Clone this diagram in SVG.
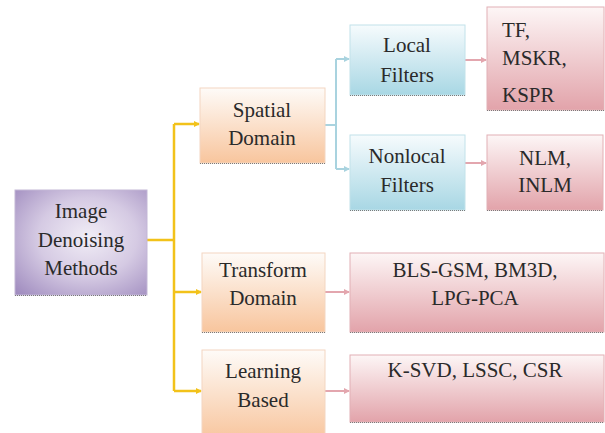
<svg xmlns="http://www.w3.org/2000/svg" width="605" height="433" viewBox="0 0 605 433">
<defs>
<radialGradient id="gPurple" cx="0.55" cy="0.45" r="0.75">
<stop offset="0" stop-color="#f1edf6"/>
<stop offset="0.5" stop-color="#d5cae3"/>
<stop offset="1" stop-color="#a08cbf"/>
</radialGradient>
<linearGradient id="gOrange" x1="0" y1="0" x2="0" y2="1">
<stop offset="0" stop-color="#fefbf8"/>
<stop offset="1" stop-color="#f8c59d"/>
</linearGradient>
<linearGradient id="gBlue" x1="0" y1="0" x2="0" y2="1">
<stop offset="0" stop-color="#f6fbfd"/>
<stop offset="1" stop-color="#a8d7e4"/>
</linearGradient>
<linearGradient id="gRed" x1="0" y1="0" x2="0" y2="1">
<stop offset="0" stop-color="#fdf6f6"/>
<stop offset="1" stop-color="#e2a3aa"/>
</linearGradient>
<marker id="aY" viewBox="0 0 6 6" refX="5" refY="3" markerWidth="6" markerHeight="6" markerUnits="userSpaceOnUse" orient="auto"><path d="M0 0L6 3L0 6Z" fill="#f2c21a"/></marker>
<marker id="aB" viewBox="0 0 6 6" refX="5" refY="3" markerWidth="6" markerHeight="6" markerUnits="userSpaceOnUse" orient="auto"><path d="M0 0L6 3L0 6Z" fill="#a9d3df"/></marker>
<marker id="aR" viewBox="0 0 6 6" refX="5" refY="3" markerWidth="6" markerHeight="6" markerUnits="userSpaceOnUse" orient="auto"><path d="M0 0L6 3L0 6Z" fill="#e3a6ae"/></marker>
</defs>
<style>
.t text{font-family:"Liberation Serif","Times New Roman",serif;font-size:21px;fill:#2a2a2a;text-anchor:middle}
.p{fill:url(#gPurple);stroke:#c3b7d6;stroke-width:1}
.o{fill:url(#gOrange);stroke:#f3d6c1;stroke-width:1}
.b{fill:url(#gBlue);stroke:#c2e2ea;stroke-width:1}
.r{fill:url(#gRed);stroke:#e2b0b5;stroke-width:1}
.sh{stroke:#7a7a7a;stroke-width:1;stroke-dasharray:1 1;fill:none}
.y{stroke:#f2c21a;stroke-width:2.5;fill:none}
.bl{stroke:#a9d3df;stroke-width:2;fill:none}
.rd{stroke:#e3a6ae;stroke-width:2;fill:none}
</style>
<rect width="605" height="433" fill="#ffffff"/>
<g id="connectors">
<path class="y" d="M147 240H174M174 124V391"/>
<path class="y" d="M174 124H199" marker-end="url(#aY)"/>
<path class="y" d="M174 292H201" marker-end="url(#aY)"/>
<path class="y" d="M174 391H201" marker-end="url(#aY)"/>
<path class="bl" d="M325 125H336M336 59V169"/>
<path class="bl" d="M336 59H349" marker-end="url(#aB)"/>
<path class="bl" d="M336 169H349" marker-end="url(#aB)"/>
<path class="rd" d="M465 60H486" marker-end="url(#aR)"/>
<path class="rd" d="M465 163H486" marker-end="url(#aR)"/>
<path class="rd" d="M325 292H349" marker-end="url(#aR)"/>
<path class="rd" d="M325 391H349" marker-end="url(#aR)"/>
</g>
<g class="t">
<g id="root">
<rect class="p" x="15" y="190" width="132" height="105"/>
<path class="sh" d="M15 295.5H147"/>
<text x="81" y="218">Image</text>
<text x="81" y="247">Denoising</text>
<text x="81" y="275">Methods</text>
</g>
<g id="spatial">
<rect class="o" x="200" y="88" width="125" height="75"/>
<path class="sh" d="M200 163.5H325"/>
<text x="262" y="117">Spatial</text>
<text x="262" y="145">Domain</text>
</g>
<g id="transform">
<rect class="o" x="202" y="253" width="123" height="79"/>
<path class="sh" d="M202 332.5H325"/>
<text x="263" y="277">Transform</text>
<text x="263" y="305">Domain</text>
</g>
<g id="learning">
<rect class="o" x="202" y="350" width="123" height="90"/>
<text x="263" y="378">Learning</text>
<text x="263" y="407">Based</text>
</g>
<g id="local">
<rect class="b" x="350" y="25" width="115" height="70"/>
<path class="sh" d="M350 95.5H465"/>
<text x="407" y="52">Local</text>
<text x="407" y="82">Filters</text>
</g>
<g id="nonlocal">
<rect class="b" x="350" y="135" width="115" height="75"/>
<path class="sh" d="M350 210.5H465"/>
<text x="407" y="163">Nonlocal</text>
<text x="407" y="192">Filters</text>
</g>
<g id="tf">
<rect class="r" x="487" y="7" width="117" height="103"/>
<path class="sh" d="M487 110.5H604"/>
<text x="502" y="37" style="text-anchor:start">TF,</text>
<text x="502" y="65" style="text-anchor:start">MSKR,</text>
<text x="502" y="102" style="text-anchor:start">KSPR</text>
</g>
<g id="nlm">
<rect class="r" x="487" y="135" width="116" height="75"/>
<path class="sh" d="M487 210.5H603"/>
<text x="545" y="165">NLM,</text>
<text x="545" y="192">INLM</text>
</g>
<g id="bls">
<rect class="r" x="350" y="253" width="254" height="79"/>
<path class="sh" d="M350 332.5H604"/>
<text x="475" y="277">BLS-GSM, BM3D,</text>
<text x="475" y="305">LPG-PCA</text>
</g>
<g id="ksvd">
<rect class="r" x="350" y="355" width="254" height="67"/>
<path class="sh" d="M350 422.5H604"/>
<text x="475" y="377">K-SVD, LSSC, CSR</text>
</g>
</g>
</svg>
